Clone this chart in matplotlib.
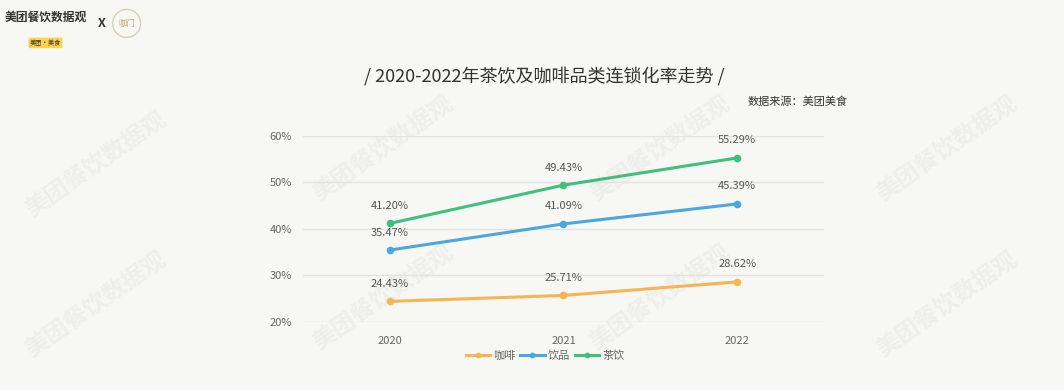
import matplotlib.pyplot as plt
from matplotlib.patches import Ellipse
import numpy as np

plt.rcParams['font.family'] = ['Noto Sans CJK SC', 'DejaVu Sans']

years = ["2020", "2021", "2022"]
coffee = [24.43, 25.71, 28.62]
drinks = [35.47, 41.09, 45.39]
tea = [41.20, 49.43, 55.29]
names = ["咖啡", "饮品", "茶饮"]
colors = ["#f5b552", "#4aa8e0", "#3fbf80"]

fig = plt.figure(figsize=(10.64, 3.9), dpi=100)
fig.patch.set_facecolor("#f7f8f3")

# faint watermarks, kept below the axes
for wx, wy in [(0.09, 0.58), (0.09, 0.22), (0.36, 0.62), (0.36, 0.24), (0.62, 0.62), (0.62, 0.24), (0.89, 0.62), (0.89, 0.22)]:
    fig.text(wx, wy, "美团餐饮数据观", fontsize=17, color="#eeeeea", rotation=35,
             ha="center", va="center", fontweight="bold", zorder=-1)

ax = fig.add_axes([0.2848, 0.1744, 0.4896, 0.4769])
ax.set_zorder(2)
ax.set_facecolor("none")
x = np.arange(len(years))
for vals, name, c in zip([coffee, drinks, tea], names, colors):
    ax.plot(x, vals, color=c, lw=2.2, marker="o", ms=4.5, label=name, zorder=3)
    for xi, v in zip(x, vals):
        ax.annotate(f"{v:.2f}%", (xi, v), xytext=(0, 9), textcoords="offset points",
                    ha="center", va="bottom", fontsize=8, color="#555555", zorder=4)

ax.set_xlim(-0.5, 2.5)
ax.set_ylim(20, 60)
ax.set_yticks([20, 30, 40, 50, 60])
ax.set_yticklabels([f"{t}%" for t in [20, 30, 40, 50, 60]])
ax.set_xticks(x)
ax.set_xticklabels(years)
ax.grid(axis="y", color="#e2e2e2", lw=1)
ax.tick_params(length=0, labelsize=8, colors="#666666")
ax.tick_params(axis="x", pad=10)
ax.tick_params(axis="y", pad=8)
for s in ax.spines.values():
    s.set_visible(False)

ax.legend(loc="upper center", bbox_to_anchor=(0.465, -0.1), ncol=3, frameon=False,
          fontsize=8, handlelength=2.2, handletextpad=0.3, columnspacing=0.4,
          labelcolor="#666666", markerscale=0.7)

fig.text(0.512, 0.805, "/ 2020-2022年茶饮及咖啡品类连锁化率走势 /", fontsize=13,
         ha="center", va="center", color="#333333")
fig.text(0.75, 0.74, "数据来源：美团美食", fontsize=8, ha="center", va="center", color="#333333")

# header logo
fig.text(0.004, 0.955, "美团餐饮数据观", fontsize=8.5, fontweight="bold", color="#333333", va="center")
fig.text(0.028, 0.89, "美团·美食", fontsize=4.5, color="#333333", va="center",
         bbox=dict(boxstyle="round,pad=0.2", fc="#ffd34d", ec="none"))
fig.text(0.096, 0.94, "X", fontsize=9, fontweight="bold", color="#333333", va="center", ha="center")
fig.add_artist(Ellipse((0.119, 0.94), 28 / 1064, 28 / 390, transform=fig.transFigure,
                       fc="none", ec="#d8cfb8", lw=1))
fig.text(0.119, 0.94, "咖门", fontsize=6, color="#b9a77a", ha="center", va="center")

fig.savefig("out.png", dpi=100, facecolor=fig.get_facecolor())
